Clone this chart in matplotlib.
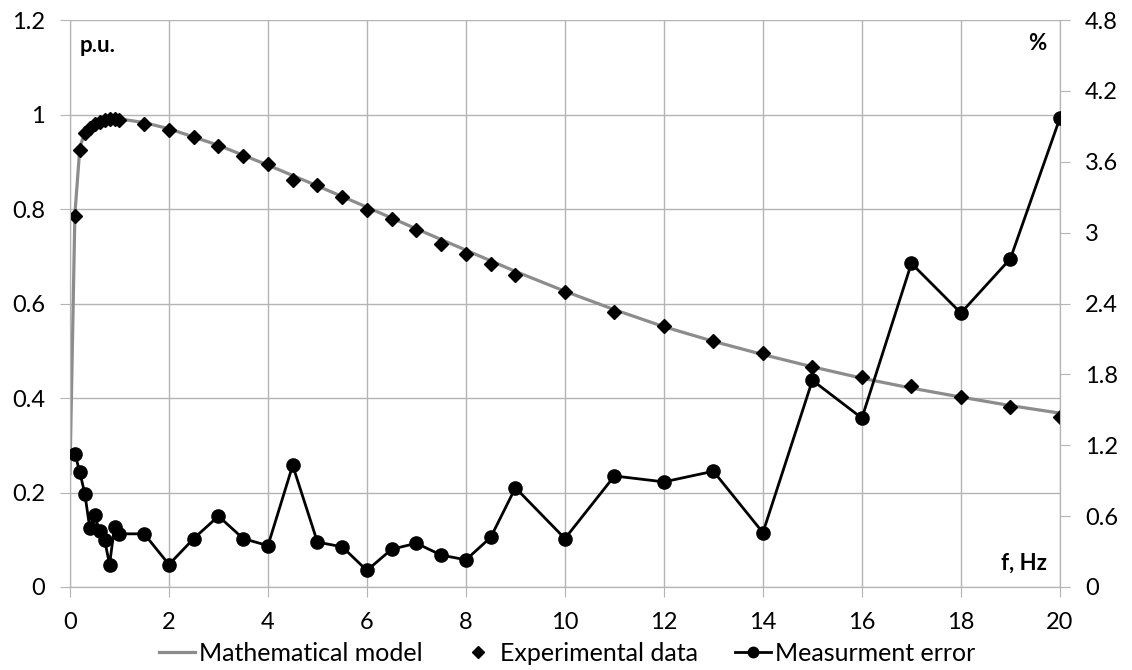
import matplotlib.pyplot as plt
from matplotlib.lines import Line2D

plt.rcParams['font.family'] = ['Lato', 'DejaVu Sans']

# frequency points, Hz
freq = [0.1, 0.2, 0.3, 0.4, 0.5, 0.6, 0.7, 0.8, 0.9, 1.0, 1.5, 2, 2.5, 3, 3.5, 4,
        4.5, 5, 5.5, 6, 6.5, 7, 7.5, 8, 8.5, 9, 10, 11, 12, 13, 14, 15, 16, 17,
        18, 19, 20]

# experimental data, p.u.
exp_data = [0.785, 0.925, 0.962, 0.972, 0.980, 0.985, 0.988, 0.990, 0.990, 0.988,
            0.980, 0.968, 0.952, 0.933, 0.913, 0.895, 0.862, 0.850, 0.825, 0.798,
            0.778, 0.755, 0.727, 0.705, 0.683, 0.660, 0.625, 0.583, 0.552, 0.520,
            0.495, 0.466, 0.445, 0.425, 0.402, 0.380, 0.360]

# mathematical model, p.u.
model_f = [0.0, 0.1, 0.2, 0.3, 0.5, 0.8, 1.0, 1.5, 2, 3, 4, 5, 6, 7, 8, 9, 10,
           11, 12, 13, 14, 15, 16, 17, 18, 19, 20]
model_v = [0.24, 0.79, 0.93, 0.963, 0.982, 0.992, 0.991, 0.983, 0.970, 0.935,
           0.893, 0.849, 0.804, 0.758, 0.713, 0.668, 0.626, 0.587, 0.551, 0.520,
           0.492, 0.466, 0.442, 0.421, 0.402, 0.384, 0.368]

# measurement error, %
err = [1.13, 0.97, 0.79, 0.50, 0.61, 0.47, 0.40, 0.19, 0.51, 0.45, 0.45, 0.19,
       0.41, 0.60, 0.41, 0.35, 1.03, 0.38, 0.34, 0.14, 0.32, 0.37, 0.27, 0.23,
       0.42, 0.84, 0.41, 0.94, 0.89, 0.98, 0.46, 1.75, 1.43, 2.74, 2.32, 2.78,
       3.97]

grid_c = '#b4b4b4'

fig = plt.figure(figsize=(11.32, 6.70), dpi=100)
ax = fig.add_axes([0.0618, 0.1239, 0.8745, 0.8461])
ax2 = ax.twinx()

ax.plot(model_f, model_v, color='#8c8c8c', lw=2.3, zorder=2)
ax.plot(freq, exp_data, ls='none', marker='D', ms=7.5, color='black', zorder=3)
ax2.plot(freq, err, color='black', lw=2.0, marker='o', ms=9.5, zorder=3)

ax.set_xlim(0, 20)
ax.set_ylim(0, 1.2)
ax2.set_ylim(0, 4.8)
ax.set_xticks(range(0, 21, 2))
ax.set_yticks([0, 0.2, 0.4, 0.6, 0.8, 1.0, 1.2])
ax.set_yticklabels(['0', '0.2', '0.4', '0.6', '0.8', '1', '1.2'])
ax2.set_yticks([0, 0.6, 1.2, 1.8, 2.4, 3.0, 3.6, 4.2, 4.8])
ax2.set_yticklabels(['0', '0.6', '1.2', '1.8', '2.4', '3', '3.6', '4.2', '4.8'])

ax.grid(True, color=grid_c, lw=1.0)
ax.set_axisbelow(True)
for a in (ax, ax2):
    for s in a.spines.values():
        s.set_color(grid_c)
    a.tick_params(colors=grid_c, labelcolor='black', labelsize=17, length=7, pad=11)
ax.spines['top'].set_visible(False)
ax2.spines['top'].set_visible(False)

ax.text(0.0101, 0.956, 'p.u.', transform=ax.transAxes, fontsize=16,
        fontweight='bold', va='center')
ax.text(0.986, 0.959, '%', transform=ax.transAxes, fontsize=16,
        fontweight='bold', va='center', ha='right')
ax.text(0.987, 0.042, 'f, Hz', transform=ax.transAxes, fontsize=16,
        fontweight='bold', va='center', ha='right')

handles = [Line2D([], [], color='#8c8c8c', lw=2.3),
           Line2D([], [], ls='none', marker='D', ms=6.5, color='black'),
           Line2D([], [], color='black', lw=2.0, marker='o', ms=7.5)]
fig.legend(handles, ['Mathematical model', 'Experimental data', 'Measurment error'],
           loc='center', bbox_to_anchor=(0.501, 0.025), ncol=3, frameon=False,
           fontsize=18, handlelength=1.44, handletextpad=0.16, columnspacing=1.5,
           borderpad=0, borderaxespad=0)

fig.savefig('out.png', dpi=100)
